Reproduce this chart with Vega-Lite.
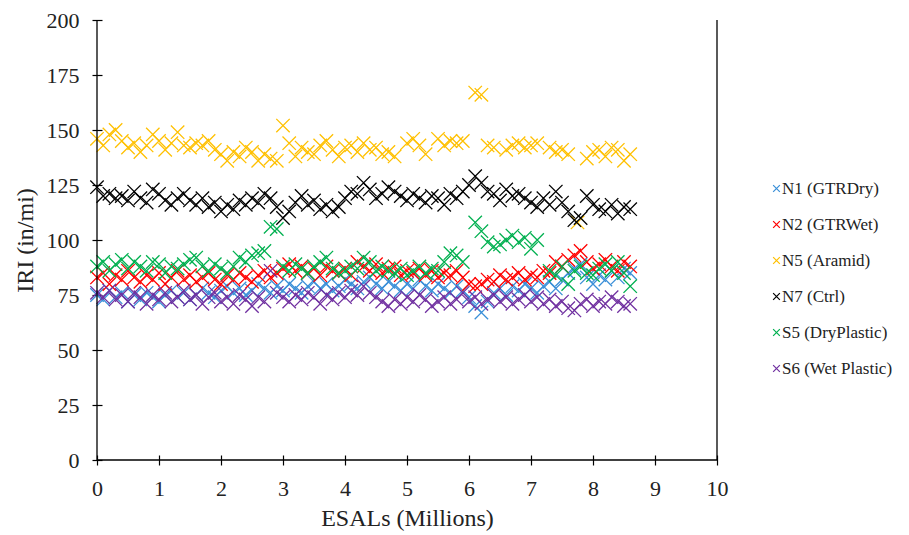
{
  "$schema": "https://vega.github.io/schema/vega-lite/v6.json",
  "width": 620,
  "height": 440,
  "autosize": {"type": "none"},
  "padding": {"left": 97, "top": 20, "right": 192, "bottom": 75},
  "background": "white",
  "config": {
    "view": {"stroke": null},
    "font": "Liberation Serif",
    "axis": {"grid": false, "domain": false, "tickColor": "black", "tickWidth": 1.2, "labelColor": "#222", "titleColor": "#222", "labelFont": "Liberation Serif", "titleFont": "Liberation Serif", "titleFontWeight": "normal"},
    "legend": {"labelFont": "Liberation Serif"}
  },
  "datasets": {
    "n1": [{"x":0,"y":75},{"x":0.1,"y":73},{"x":0.2,"y":77},{"x":0.3,"y":74},{"x":0.4,"y":76},{"x":0.5,"y":72},{"x":0.6,"y":75},{"x":0.7,"y":73},{"x":0.8,"y":76},{"x":0.9,"y":74},{"x":1.0,"y":72},{"x":1.1,"y":75},{"x":1.2,"y":77},{"x":1.3,"y":74},{"x":1.4,"y":76},{"x":1.5,"y":73},{"x":1.6,"y":75},{"x":1.7,"y":78},{"x":1.8,"y":76},{"x":1.9,"y":74},{"x":2.0,"y":77},{"x":2.1,"y":79},{"x":2.2,"y":76},{"x":2.3,"y":78},{"x":2.4,"y":75},{"x":2.5,"y":77},{"x":2.6,"y":80},{"x":2.7,"y":78},{"x":2.8,"y":76},{"x":2.9,"y":79},{"x":3.0,"y":77},{"x":3.1,"y":80},{"x":3.2,"y":78},{"x":3.3,"y":76},{"x":3.4,"y":79},{"x":3.5,"y":81},{"x":3.6,"y":78},{"x":3.7,"y":80},{"x":3.8,"y":77},{"x":3.9,"y":79},{"x":4.0,"y":82},{"x":4.1,"y":80},{"x":4.2,"y":78},{"x":4.3,"y":81},{"x":4.4,"y":83},{"x":4.5,"y":80},{"x":4.6,"y":78},{"x":4.7,"y":81},{"x":4.8,"y":79},{"x":4.9,"y":77},{"x":5.0,"y":80},{"x":5.1,"y":78},{"x":5.2,"y":82},{"x":5.3,"y":79},{"x":5.4,"y":77},{"x":5.5,"y":80},{"x":5.6,"y":78},{"x":5.7,"y":76},{"x":5.8,"y":79},{"x":5.9,"y":77},{"x":6.0,"y":74},{"x":6.1,"y":70},{"x":6.2,"y":67},{"x":6.3,"y":72},{"x":6.4,"y":76},{"x":6.5,"y":78},{"x":6.6,"y":75},{"x":6.7,"y":79},{"x":6.8,"y":77},{"x":6.9,"y":80},{"x":7.0,"y":78},{"x":7.1,"y":76},{"x":7.2,"y":79},{"x":7.3,"y":81},{"x":7.4,"y":78},{"x":7.5,"y":82},{"x":7.6,"y":85},{"x":7.7,"y":87},{"x":7.8,"y":89},{"x":7.9,"y":83},{"x":8.0,"y":80},{"x":8.1,"y":84},{"x":8.2,"y":82},{"x":8.3,"y":86},{"x":8.4,"y":83},{"x":8.5,"y":87},{"x":8.6,"y":85}],
    "n2": [{"x":0,"y":83},{"x":0.1,"y":85},{"x":0.2,"y":80},{"x":0.3,"y":84},{"x":0.4,"y":82},{"x":0.5,"y":86},{"x":0.6,"y":83},{"x":0.7,"y":81},{"x":0.8,"y":84},{"x":0.9,"y":82},{"x":1.0,"y":85},{"x":1.1,"y":80},{"x":1.2,"y":83},{"x":1.3,"y":86},{"x":1.4,"y":82},{"x":1.5,"y":84},{"x":1.6,"y":81},{"x":1.7,"y":83},{"x":1.8,"y":85},{"x":1.9,"y":82},{"x":2.0,"y":80},{"x":2.1,"y":84},{"x":2.2,"y":82},{"x":2.3,"y":85},{"x":2.4,"y":83},{"x":2.5,"y":81},{"x":2.6,"y":84},{"x":2.7,"y":86},{"x":2.8,"y":83},{"x":2.9,"y":85},{"x":3.0,"y":87},{"x":3.1,"y":89},{"x":3.2,"y":86},{"x":3.3,"y":88},{"x":3.4,"y":85},{"x":3.5,"y":87},{"x":3.6,"y":84},{"x":3.7,"y":88},{"x":3.8,"y":86},{"x":3.9,"y":85},{"x":4.0,"y":87},{"x":4.1,"y":84},{"x":4.2,"y":90},{"x":4.3,"y":88},{"x":4.4,"y":86},{"x":4.5,"y":89},{"x":4.6,"y":85},{"x":4.7,"y":87},{"x":4.8,"y":88},{"x":4.9,"y":84},{"x":5.0,"y":86},{"x":5.1,"y":85},{"x":5.2,"y":87},{"x":5.3,"y":84},{"x":5.4,"y":86},{"x":5.5,"y":83},{"x":5.6,"y":85},{"x":5.7,"y":84},{"x":5.8,"y":86},{"x":5.9,"y":83},{"x":6.0,"y":80},{"x":6.1,"y":79},{"x":6.2,"y":80},{"x":6.3,"y":82},{"x":6.4,"y":81},{"x":6.5,"y":84},{"x":6.6,"y":82},{"x":6.7,"y":83},{"x":6.8,"y":85},{"x":6.9,"y":82},{"x":7.0,"y":84},{"x":7.1,"y":83},{"x":7.2,"y":86},{"x":7.3,"y":85},{"x":7.4,"y":90},{"x":7.5,"y":88},{"x":7.6,"y":91},{"x":7.7,"y":93},{"x":7.8,"y":95},{"x":7.9,"y":90},{"x":8.0,"y":87},{"x":8.1,"y":89},{"x":8.2,"y":91},{"x":8.3,"y":88},{"x":8.4,"y":86},{"x":8.5,"y":90},{"x":8.6,"y":88}],
    "n5": [{"x":0,"y":146},{"x":0.1,"y":143},{"x":0.2,"y":148},{"x":0.3,"y":150},{"x":0.4,"y":145},{"x":0.5,"y":142},{"x":0.6,"y":144},{"x":0.7,"y":140},{"x":0.8,"y":143},{"x":0.9,"y":148},{"x":1.0,"y":145},{"x":1.1,"y":141},{"x":1.2,"y":144},{"x":1.3,"y":149},{"x":1.4,"y":143},{"x":1.5,"y":142},{"x":1.6,"y":144},{"x":1.7,"y":143},{"x":1.8,"y":145},{"x":1.9,"y":141},{"x":2.0,"y":139},{"x":2.1,"y":136},{"x":2.2,"y":140},{"x":2.3,"y":138},{"x":2.4,"y":142},{"x":2.5,"y":140},{"x":2.6,"y":136},{"x":2.7,"y":139},{"x":2.8,"y":137},{"x":2.9,"y":136},{"x":3.0,"y":152},{"x":3.1,"y":144},{"x":3.2,"y":138},{"x":3.3,"y":142},{"x":3.4,"y":140},{"x":3.5,"y":139},{"x":3.6,"y":143},{"x":3.7,"y":145},{"x":3.8,"y":141},{"x":3.9,"y":138},{"x":4.0,"y":142},{"x":4.1,"y":143},{"x":4.2,"y":140},{"x":4.3,"y":144},{"x":4.4,"y":141},{"x":4.5,"y":142},{"x":4.6,"y":139},{"x":4.7,"y":140},{"x":4.8,"y":138},{"x":5.0,"y":144},{"x":5.1,"y":146},{"x":5.2,"y":143},{"x":5.3,"y":139},{"x":5.5,"y":146},{"x":5.6,"y":143},{"x":5.7,"y":145},{"x":5.8,"y":144},{"x":5.9,"y":145},{"x":6.1,"y":167},{"x":6.2,"y":166},{"x":6.3,"y":143},{"x":6.4,"y":142},{"x":6.6,"y":141},{"x":6.7,"y":143},{"x":6.8,"y":144},{"x":6.9,"y":142},{"x":7.0,"y":143},{"x":7.1,"y":144},{"x":7.3,"y":142},{"x":7.4,"y":140},{"x":7.5,"y":141},{"x":7.6,"y":139},{"x":7.75,"y":108},{"x":7.9,"y":137},{"x":8.0,"y":140},{"x":8.1,"y":141},{"x":8.2,"y":138},{"x":8.3,"y":142},{"x":8.4,"y":141},{"x":8.5,"y":136},{"x":8.6,"y":139}],
    "n7": [{"x":0,"y":124},{"x":0.1,"y":120},{"x":0.2,"y":121},{"x":0.3,"y":119},{"x":0.4,"y":120},{"x":0.5,"y":118},{"x":0.6,"y":122},{"x":0.7,"y":119},{"x":0.8,"y":117},{"x":0.9,"y":123},{"x":1.0,"y":121},{"x":1.1,"y":118},{"x":1.2,"y":116},{"x":1.3,"y":119},{"x":1.4,"y":121},{"x":1.5,"y":118},{"x":1.6,"y":116},{"x":1.7,"y":119},{"x":1.8,"y":115},{"x":1.9,"y":117},{"x":2.0,"y":113},{"x":2.1,"y":116},{"x":2.2,"y":114},{"x":2.3,"y":118},{"x":2.4,"y":116},{"x":2.5,"y":119},{"x":2.6,"y":117},{"x":2.7,"y":121},{"x":2.8,"y":119},{"x":2.9,"y":115},{"x":3.0,"y":110},{"x":3.1,"y":113},{"x":3.2,"y":117},{"x":3.3,"y":120},{"x":3.4,"y":116},{"x":3.5,"y":118},{"x":3.6,"y":114},{"x":3.7,"y":116},{"x":3.8,"y":113},{"x":3.9,"y":115},{"x":4.0,"y":119},{"x":4.1,"y":122},{"x":4.2,"y":121},{"x":4.3,"y":126},{"x":4.4,"y":123},{"x":4.5,"y":119},{"x":4.6,"y":121},{"x":4.7,"y":124},{"x":4.8,"y":122},{"x":4.9,"y":120},{"x":5.0,"y":118},{"x":5.1,"y":121},{"x":5.2,"y":119},{"x":5.3,"y":117},{"x":5.4,"y":120},{"x":5.5,"y":119},{"x":5.6,"y":116},{"x":5.7,"y":121},{"x":5.8,"y":119},{"x":5.9,"y":122},{"x":6.0,"y":125},{"x":6.1,"y":129},{"x":6.2,"y":126},{"x":6.3,"y":122},{"x":6.4,"y":121},{"x":6.5,"y":118},{"x":6.6,"y":123},{"x":6.7,"y":120},{"x":6.8,"y":121},{"x":6.9,"y":119},{"x":7.0,"y":117},{"x":7.1,"y":115},{"x":7.2,"y":119},{"x":7.3,"y":116},{"x":7.4,"y":122},{"x":7.5,"y":117},{"x":7.6,"y":113},{"x":7.7,"y":109},{"x":7.8,"y":110},{"x":7.9,"y":120},{"x":8.0,"y":116},{"x":8.1,"y":114},{"x":8.2,"y":113},{"x":8.3,"y":116},{"x":8.4,"y":112},{"x":8.5,"y":115},{"x":8.6,"y":114}],
    "s5": [{"x":0,"y":88},{"x":0.1,"y":90},{"x":0.2,"y":86},{"x":0.3,"y":89},{"x":0.4,"y":91},{"x":0.5,"y":87},{"x":0.6,"y":90},{"x":0.7,"y":88},{"x":0.8,"y":86},{"x":0.9,"y":90},{"x":1.0,"y":89},{"x":1.1,"y":85},{"x":1.2,"y":88},{"x":1.3,"y":87},{"x":1.4,"y":89},{"x":1.5,"y":91},{"x":1.6,"y":92},{"x":1.7,"y":88},{"x":1.8,"y":86},{"x":1.9,"y":89},{"x":2.0,"y":87},{"x":2.1,"y":85},{"x":2.2,"y":88},{"x":2.3,"y":92},{"x":2.4,"y":90},{"x":2.5,"y":93},{"x":2.6,"y":94},{"x":2.7,"y":95},{"x":2.8,"y":106},{"x":2.9,"y":105},{"x":3.0,"y":88},{"x":3.1,"y":86},{"x":3.2,"y":89},{"x":3.3,"y":87},{"x":3.4,"y":85},{"x":3.5,"y":88},{"x":3.6,"y":90},{"x":3.7,"y":92},{"x":3.8,"y":87},{"x":3.9,"y":85},{"x":4.0,"y":86},{"x":4.1,"y":88},{"x":4.2,"y":87},{"x":4.3,"y":92},{"x":4.4,"y":90},{"x":4.5,"y":86},{"x":4.6,"y":88},{"x":4.7,"y":86},{"x":4.8,"y":85},{"x":4.9,"y":87},{"x":5.0,"y":84},{"x":5.1,"y":86},{"x":5.2,"y":88},{"x":5.3,"y":85},{"x":5.4,"y":87},{"x":5.5,"y":86},{"x":5.6,"y":90},{"x":5.7,"y":94},{"x":5.8,"y":93},{"x":5.9,"y":90},{"x":6.1,"y":108},{"x":6.2,"y":104},{"x":6.3,"y":99},{"x":6.4,"y":97},{"x":6.5,"y":98},{"x":6.6,"y":100},{"x":6.7,"y":102},{"x":6.8,"y":99},{"x":6.9,"y":101},{"x":7.0,"y":96},{"x":7.1,"y":100},{"x":7.3,"y":86},{"x":7.4,"y":84},{"x":7.5,"y":88},{"x":7.6,"y":80},{"x":7.7,"y":86},{"x":7.8,"y":88},{"x":7.9,"y":85},{"x":8.0,"y":84},{"x":8.1,"y":87},{"x":8.2,"y":89},{"x":8.3,"y":86},{"x":8.4,"y":90},{"x":8.5,"y":85},{"x":8.6,"y":79}],
    "s6": [{"x":0,"y":76},{"x":0.1,"y":74},{"x":0.2,"y":77},{"x":0.3,"y":73},{"x":0.4,"y":75},{"x":0.5,"y":72},{"x":0.6,"y":76},{"x":0.7,"y":74},{"x":0.8,"y":71},{"x":0.9,"y":75},{"x":1.0,"y":73},{"x":1.1,"y":76},{"x":1.2,"y":72},{"x":1.3,"y":74},{"x":1.4,"y":77},{"x":1.5,"y":73},{"x":1.6,"y":75},{"x":1.7,"y":71},{"x":1.8,"y":74},{"x":1.9,"y":76},{"x":2.0,"y":72},{"x":2.1,"y":74},{"x":2.2,"y":71},{"x":2.3,"y":75},{"x":2.4,"y":73},{"x":2.5,"y":70},{"x":2.6,"y":74},{"x":2.7,"y":72},{"x":2.8,"y":86},{"x":2.9,"y":76},{"x":3.0,"y":74},{"x":3.1,"y":72},{"x":3.2,"y":75},{"x":3.3,"y":73},{"x":3.4,"y":76},{"x":3.5,"y":74},{"x":3.6,"y":71},{"x":3.7,"y":75},{"x":3.8,"y":73},{"x":3.9,"y":76},{"x":4.0,"y":74},{"x":4.1,"y":77},{"x":4.2,"y":75},{"x":4.3,"y":79},{"x":4.4,"y":76},{"x":4.5,"y":74},{"x":4.6,"y":72},{"x":4.7,"y":70},{"x":4.8,"y":73},{"x":4.9,"y":71},{"x":5.0,"y":74},{"x":5.1,"y":72},{"x":5.2,"y":75},{"x":5.3,"y":73},{"x":5.4,"y":70},{"x":5.5,"y":72},{"x":5.6,"y":74},{"x":5.7,"y":71},{"x":5.8,"y":73},{"x":5.9,"y":76},{"x":6.0,"y":72},{"x":6.1,"y":74},{"x":6.2,"y":71},{"x":6.3,"y":73},{"x":6.4,"y":75},{"x":6.5,"y":72},{"x":6.6,"y":74},{"x":6.7,"y":71},{"x":6.8,"y":73},{"x":6.9,"y":75},{"x":7.0,"y":72},{"x":7.1,"y":74},{"x":7.2,"y":71},{"x":7.3,"y":73},{"x":7.4,"y":70},{"x":7.5,"y":72},{"x":7.6,"y":69},{"x":7.7,"y":68},{"x":7.8,"y":71},{"x":7.9,"y":73},{"x":8.0,"y":70},{"x":8.1,"y":72},{"x":8.2,"y":71},{"x":8.3,"y":74},{"x":8.4,"y":72},{"x":8.5,"y":70},{"x":8.6,"y":71}]
  },
  "layer": [
    {
      "encoding": {
        "x": {"field": "x", "type": "quantitative", "scale": {"domain": [0, 10], "nice": false},
          "axis": {"title": "ESALs (Millions)", "format": "d", "values": [0,1,2,3,4,5,6,7,8,9,10], "offset": -5, "tickSize": 10, "labelPadding": 13, "labelFontSize": 22, "titleFontSize": 24, "titlePadding": 7, "labelFlush": false}},
        "y": {"field": "y", "type": "quantitative", "scale": {"domain": [0, 200], "nice": false},
          "axis": {"title": "IRI (in/mi)", "format": "d", "values": [0,25,50,75,100,125,150,175,200], "offset": -5, "tickSize": 10, "labelPadding": 13, "labelFontSize": 22, "titleFontSize": 24, "titlePadding": 9, "labelFlush": false}},
        "color": {"type": "nominal", "scale": {"domain": ["N1 (GTRDry)", "N2 (GTRWet)", "N5 (Aramid)", "N7 (Ctrl)", "S5 (DryPlastic)", "S6 (Wet Plastic)"], "range": ["#3A8FD8", "#FF0000", "#FFC000", "#000000", "#00B050", "#7030A0"]},
          "legend": {"title": null, "orient": "none", "legendX": 671, "legendY": 160, "padding": 0, "symbolSize": 45, "symbolStrokeWidth": 1.2, "labelFontSize": 17, "labelColor": "#222", "rowPadding": 18, "labelOffset": -3}}
      },
      "layer": [
        {"data": {"name": "n1"}, "mark": {"type": "point", "shape": "M-1,-1L1,1M-1,1L1,-1", "filled": false, "strokeWidth": 1.3, "size": 180, "opacity": 1}, "encoding": {"color": {"datum": "N1 (GTRDry)"}}},
        {"data": {"name": "n2"}, "mark": {"type": "point", "shape": "M-1,-1L1,1M-1,1L1,-1", "filled": false, "strokeWidth": 1.3, "size": 180, "opacity": 1}, "encoding": {"color": {"datum": "N2 (GTRWet)"}}},
        {"data": {"name": "n5"}, "mark": {"type": "point", "shape": "M-1,-1L1,1M-1,1L1,-1", "filled": false, "strokeWidth": 1.3, "size": 180, "opacity": 1}, "encoding": {"color": {"datum": "N5 (Aramid)"}}},
        {"data": {"name": "n7"}, "mark": {"type": "point", "shape": "M-1,-1L1,1M-1,1L1,-1", "filled": false, "strokeWidth": 1.3, "size": 180, "opacity": 1}, "encoding": {"color": {"datum": "N7 (Ctrl)"}}},
        {"data": {"name": "s5"}, "mark": {"type": "point", "shape": "M-1,-1L1,1M-1,1L1,-1", "filled": false, "strokeWidth": 1.3, "size": 180, "opacity": 1}, "encoding": {"color": {"datum": "S5 (DryPlastic)"}}},
        {"data": {"name": "s6"}, "mark": {"type": "point", "shape": "M-1,-1L1,1M-1,1L1,-1", "filled": false, "strokeWidth": 1.3, "size": 180, "opacity": 1}, "encoding": {"color": {"datum": "S6 (Wet Plastic)"}}}
      ]
    },
    {"data": {"values": [{}]}, "mark": {"type": "rule", "color": "black", "strokeWidth": 1.3}, "encoding": {"x": {"datum": 0, "type": "quantitative"}, "y": {"datum": 0, "type": "quantitative"}, "y2": {"datum": 200}}},
    {"data": {"values": [{}]}, "mark": {"type": "rule", "color": "black", "strokeWidth": 1.3}, "encoding": {"x": {"datum": 10, "type": "quantitative"}, "y": {"datum": 0, "type": "quantitative"}, "y2": {"datum": 200}}},
    {"data": {"values": [{}]}, "mark": {"type": "rule", "color": "black", "strokeWidth": 1.3}, "encoding": {"x": {"datum": 0, "type": "quantitative"}, "x2": {"datum": 10}, "y": {"datum": 0, "type": "quantitative"}}}
  ]
}
